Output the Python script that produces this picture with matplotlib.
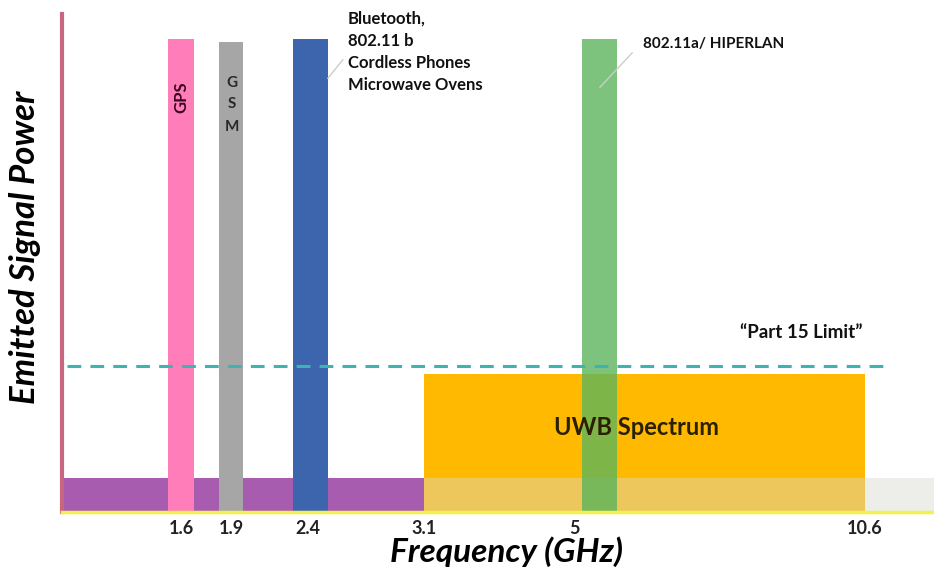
import numpy as np
import matplotlib
matplotlib.use("Agg")
import matplotlib.pyplot as plt

plt.rcParams['font.family'] = ['Lato', 'DejaVu Sans']

# Datos (GHz y potencia relativa 0-100)
tick_freqs = [1.6, 1.9, 2.4, 3.1, 5, 10.6]
tick_labels = ["1.6", "1.9", "2.4", "3.1", "5", "10.6"]

narrow_names = ["GPS", "GSM", "Bluetooth", "802.11a"]
narrow_low = [1.52, 1.83, 2.30, 5.15]
narrow_high = [1.68, 1.98, 2.52, 5.825]
narrow_power = [95.0, 94.4, 95.0, 95.0]

uwb_low, uwb_high = 3.1, 10.6
uwb_power = 27.7
part15_limit = 29.3
noise_floor = 6.8

# Escala del eje x (no lineal en la figura original)
AXIS_F = [0.87, 1.6, 1.9, 2.4, 3.1, 5.0, 10.6, 11.93]
AXIS_P = [62, 181, 231, 308, 424, 574, 865, 934]


def fwd(f):
    return np.interp(f, AXIS_F, AXIS_P)


def inv(p):
    return np.interp(p, AXIS_P, AXIS_F)


fig = plt.figure(figsize=(9.34, 5.72), dpi=100)
ax = fig.add_axes([62 / 934, 1 - 512 / 572, 1 - 62 / 934, (512 - 14) / 572])
ax.set_xscale('function', functions=(fwd, inv))
x0, x1 = AXIS_F[0], AXIS_F[-1]
ax.set_xlim(x0, x1)
ax.set_ylim(0, 100)

# Piso de ruido
ax.bar(x0, noise_floor, width=uwb_low - x0, align='edge', color="#a75cb0", zorder=1)
ax.bar(uwb_high, noise_floor, width=x1 - uwb_high, align='edge', color="#ededea", zorder=1)

# Espectro UWB
ax.bar(uwb_low, uwb_power, width=uwb_high - uwb_low, align='edge', color="#ffb900", zorder=2)
ax.bar(uwb_low, noise_floor, width=uwb_high - uwb_low, align='edge', color="#edc75b", zorder=2)

# Bandas estrechas
colors = ["#ff7eb9", "#a6a6a6", "#3d65ad", "#5cb45c"]
alphas = [1, 1, 1, 0.8]
for lo, hi, pw, c, a in zip(narrow_low, narrow_high, narrow_power, colors, alphas):
    ax.bar(lo, pw, width=hi - lo, align='edge', color=c, alpha=a, zorder=3)

# Límite Part 15
ax.plot([0.90, 11.0], [part15_limit, part15_limit], color="#3fb3b0",
        lw=2.2, dashes=(4.5, 3), zorder=4)

# Textos
ax.text(1.6, 83.3, "GPS", rotation=90, ha='center', va='center',
        fontsize=12, fontweight='bold', color="#3a0520", zorder=5)
for letter, yy in zip("GSM", [86.1, 81.9, 77.3]):
    ax.text(1.905, yy, letter, ha='center', va='center',
            fontsize=11, fontweight='bold', color="#2a2a2a", zorder=5)
ax.text(2.64, 100.6, "Bluetooth,\n802.11 b\nCordless Phones\nMicrowave Ovens",
        ha='left', va='top', fontsize=12, fontweight='bold', color="#111111",
        linespacing=1.45, clip_on=False, zorder=5)
ax.text(6.33, 94.0, "802.11a/ HIPERLAN", ha='left', va='center',
        fontsize=11, fontweight='bold', color="#111111", zorder=5)
ax.text(9.37, 36.1, "\u201cPart 15 Limit\u201d", ha='center', va='center',
        fontsize=13.5, fontweight='bold', color="#111111", zorder=5)
ax.text(6.21, 16.9, "UWB Spectrum", ha='center', va='center',
        fontsize=17, fontweight='bold', color="#2a1f00", zorder=5)

# Líneas guía tenues
ax.plot([2.52, 2.61], [87.1, 90.8], color="#c9cfc9", lw=1, zorder=4)
ax.plot([5.5, 6.12], [85.3, 92.2], color="#c9cfc9", lw=1, zorder=4)

# Ejes
for s in ['top', 'right']:
    ax.spines[s].set_visible(False)
ax.spines['left'].set_color("#c8667f")
ax.spines['left'].set_linewidth(3)
ax.spines['bottom'].set_color("#f4f24a")
ax.spines['bottom'].set_linewidth(2.5)
ax.spines['bottom'].set_zorder(6)
ax.set_yticks([])
ax.set_xticks(tick_freqs)
ax.set_xticklabels(tick_labels, fontsize=13, fontweight='bold', color="#222222")
ax.tick_params(axis='x', length=0, pad=6)
ax.xaxis.set_minor_locator(matplotlib.ticker.NullLocator())

fig.text(25 / 934, 1 - 247 / 572, "Emitted Signal Power", rotation=90,
         ha='center', va='center', fontsize=25, fontweight='bold', style='italic')
fig.text(506 / 934, 1 - 552 / 572, "Frequency (GHz)", ha='center', va='center',
         fontsize=24, fontweight='bold', style='italic')

fig.savefig("out.png", dpi=100)
